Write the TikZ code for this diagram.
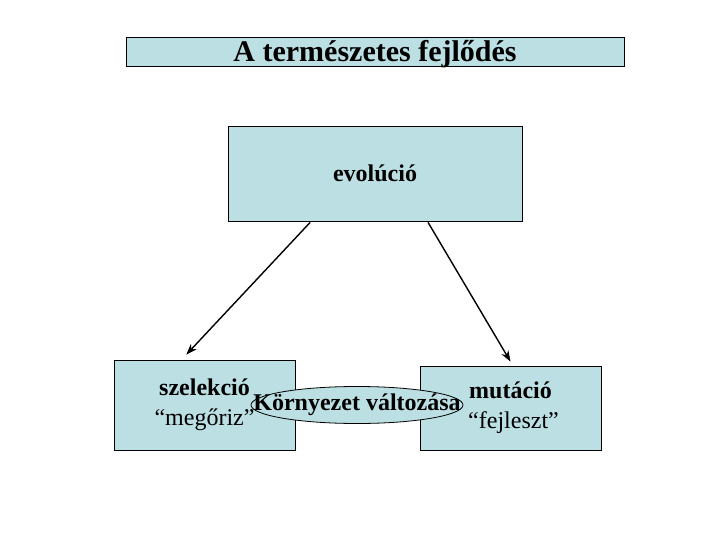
\documentclass[tikz,border=0pt]{standalone}
\usepackage{fontspec}
\setmainfont{Liberation Serif}
\usetikzlibrary{arrows.meta,calc,shapes.geometric}
\definecolor{pale}{HTML}{BCDFE3}

\begin{document}
\begin{tikzpicture}[x=1pt,y=-1pt,
  font=\fontsize{24}{30}\selectfont,
  box/.style={draw=black,line width=0.8pt,fill=pale,align=center,inner sep=0pt},
  oval/.style={ellipse,draw=black,line width=0.8pt,fill=pale,inner sep=0pt,
               minimum width=212pt,minimum height=37pt},
  a/.style={-{Stealth[length=11pt,width=8pt]},draw=black,line width=1.4pt}]
\useasboundingbox (0,0) rectangle (720,540);
\node[box,minimum width=498pt,minimum height=29pt,text height=25pt,text depth=4pt,
  font=\fontsize{30}{30}\selectfont\bfseries] (title) at (375,51.5) {A természetes fejlődés};
\node[box,minimum width=294pt,minimum height=95pt,font=\fontsize{24}{28}\selectfont\bfseries]
  (evo) at (375,173.5) {evolúció};
\node[box,minimum width=181pt,minimum height=90pt] (sel) at (204.5,405)
  {\textbf{szelekció}\\“megőriz”};
\node[box,minimum width=181pt,minimum height=84pt] (mut) at (510.5,408)
  {\textbf{mutáció}\\\hspace*{6pt}“fejleszt”};
\node[oval,font=\fontsize{24}{28}\selectfont\bfseries] (env) at (357,405)
  {\makebox[0pt]{Környezet változása}};
\draw[a] ($(evo.south west)!0.28!(evo.south east)+(0,1)$) -- ($(sel.north west)!0.40!(sel.north east)+(0,-5)$);
\draw[a] ($(evo.south west)!0.68!(evo.south east)+(0,1)$) -- ($(mut.north west)!0.50!(mut.north east)+(0,-4)$);
\end{tikzpicture}
\end{document}
